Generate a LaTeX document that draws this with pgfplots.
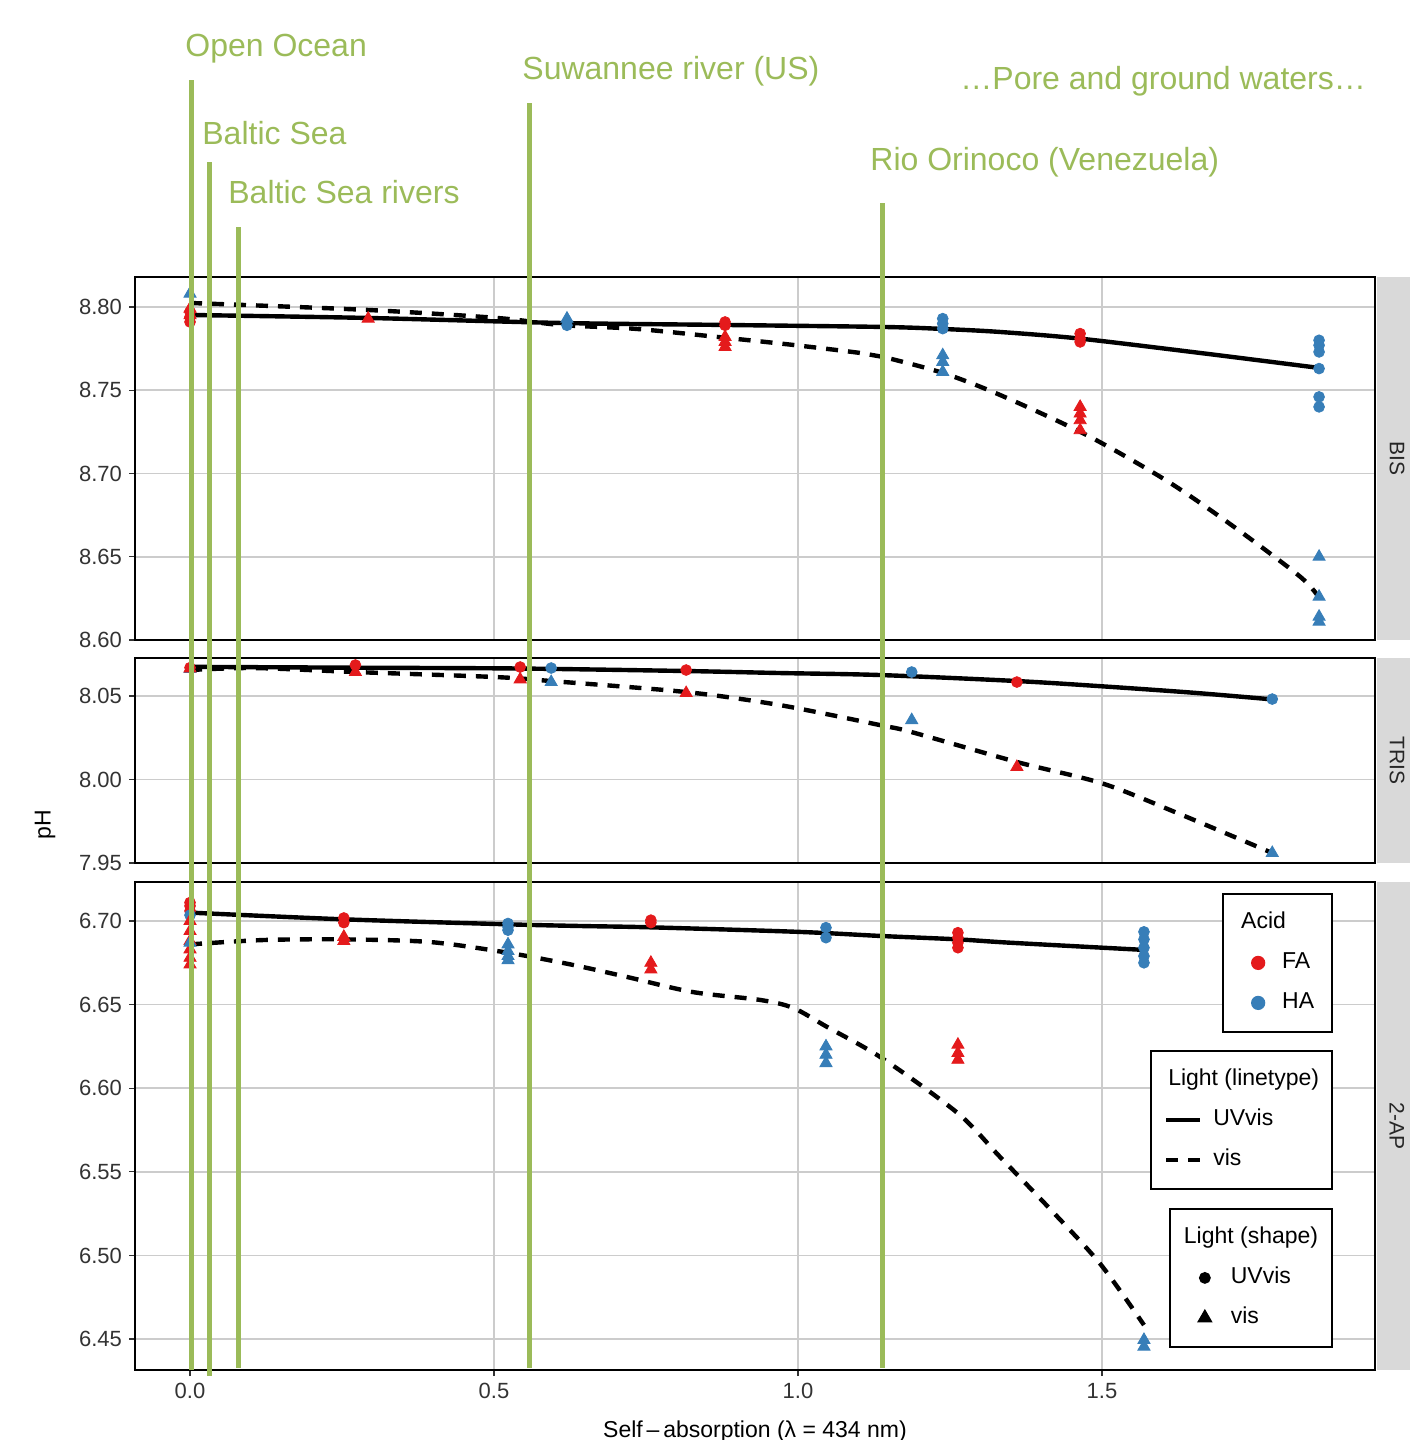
\documentclass[border=0pt]{standalone}
\usepackage{fontspec}
\setmainfont{Liberation Sans}
\usepackage{pgfplots}
\pgfplotsset{compat=1.18}
\definecolor{fa}{HTML}{E41A1C}
\definecolor{ha}{HTML}{377EB8}
\definecolor{ann}{HTML}{9BBB59}
\definecolor{gridc}{HTML}{CCCCCC}
\definecolor{tickc}{HTML}{333333}
\definecolor{stripc}{HTML}{D9D9D9}
\pgfplotsset{
 panel/.style={
   scale only axis, width=620pt, xmin=-0.0905, xmax=1.949,
   anchor=north west,
   axis line style={line width=1pt, black},
   grid=major, major grid style={line width=0.8pt, gridc},
   xtick={0,0.5,1,1.5},
   tick align=outside, major tick length=3pt,
   tick style={line width=0.6pt, tickc},
   ytick pos=left, xtick pos=bottom,
   /pgf/number format/assume math mode=true,
   yticklabel style={/pgf/number format/fixed, /pgf/number format/fixed zerofill, /pgf/number format/precision=2, font=\fontsize{11}{13}\selectfont, text=tickc},
   xticklabel style={/pgf/number format/fixed, /pgf/number format/fixed zerofill, /pgf/number format/precision=1, font=\fontsize{11}{13}\selectfont, text=tickc},
   scaled y ticks=false,
 },
 top panel/.style={xmajorticks=false, xticklabels={}},
 circ/.style={only marks, mark=*, mark size=2.7pt, mark options={draw=none}},
 tri/.style={only marks, mark=triangle*, mark size=3.5pt, mark options={draw=none}},
 uv/.style={no marks, line width=2.2pt, black, smooth},
 vis/.style={no marks, line width=2.2pt, black, smooth, dash pattern=on 6pt off 5pt},
 legbox/.style={legend cell align=left, legend style={anchor=north east, draw=black, line width=0.9pt, fill=white, inner ysep=9pt, row sep=9pt, font=\fontsize{11.5}{13}\selectfont, nodes={inner sep=0pt, text height=8.5pt, text depth=2.5pt}}},
}
\begin{document}
\begin{tikzpicture}
\path[use as bounding box] (0,0) rectangle (704.5pt,-720pt);
% strips
\fill[stripc] (688.5pt,-138.5pt) rectangle (706pt,-320pt);
\fill[stripc] (688.5pt,-329pt) rectangle (706pt,-431.5pt);
\fill[stripc] (688.5pt,-441pt) rectangle (706pt,-685pt);
\node[rotate=-90, font=\fontsize{10.5}{12}\selectfont, text=black!85] at (698.5pt,-229.25pt) {BIS};
\node[rotate=-90, font=\fontsize{10.5}{12}\selectfont, text=black!85] at (698.5pt,-380.25pt) {TRIS};
\node[rotate=-90, font=\fontsize{10.5}{12}\selectfont, text=black!85] at (698.5pt,-563pt) {2-AP};

% ---------------- BIS ----------------
\begin{axis}[panel, top panel, at={(67.5pt,-138.5pt)}, height=181.5pt,
  ymin=8.6, ymax=8.818, ytick={8.6,8.65,8.7,8.75,8.8}]
\addplot[circ, fa] coordinates {(0,8.797)(0,8.794)(0,8.791)(0.88,8.791)(0.88,8.789)(1.464,8.784)(1.464,8.781)(1.464,8.779)};
\addplot[tri, fa] coordinates {(0,8.799)(0,8.795)(0.293,8.793)(0.88,8.782)(0.88,8.779)(0.88,8.776)(1.464,8.740)(1.464,8.736)(1.464,8.732)(1.464,8.726)};
\addplot[circ, ha] coordinates {(0.62,8.789)(1.238,8.793)(1.238,8.790)(1.238,8.787)(1.857,8.780)(1.857,8.777)(1.857,8.773)(1.857,8.763)(1.857,8.746)(1.857,8.740)};
\addplot[tri, ha] coordinates {(0,8.808)(0.62,8.793)(1.238,8.771)(1.238,8.767)(1.238,8.761)(1.857,8.650)(1.857,8.626)(1.857,8.614)(1.857,8.611)};
\addplot[uv] coordinates {(0,8.7952)(0.293,8.7934)(0.609,8.7904)(0.880,8.7892)(1.140,8.788)(1.238,8.7868)(1.332,8.785)(1.464,8.781)(1.661,8.7724)(1.857,8.7634)};
\addplot[vis] coordinates {(0,8.8024)(0.293,8.7982)(0.505,8.7934)(0.609,8.7892)(0.735,8.7868)(0.883,8.7814)(0.992,8.7772)(1.102,8.7724)(1.140,8.770)(1.238,8.7604)(1.332,8.7472)(1.474,8.7232)(1.607,8.6955)(1.715,8.6685)(1.826,8.638)(1.857,8.6254)};
\end{axis}

% ---------------- TRIS ----------------
\begin{axis}[panel, top panel, at={(67.5pt,-329pt)}, height=102.5pt,
  ymin=7.95, ymax=8.0728, ytick={7.95,8,8.05}]
\addplot[circ, fa] coordinates {(0,8.067)(0.272,8.0686)(0.543,8.0674)(0.816,8.0656)(1.36,8.0584)};
\addplot[tri, ha] coordinates {(0,8.0662)(0.594,8.0584)(1.187,8.0356)(1.78,7.956)};
\addplot[tri, fa] coordinates {(0,8.0665)(0.272,8.0644)(0.543,8.060)(0.816,8.0518)(1.36,8.0075)};
\addplot[circ, ha] coordinates {(0.594,8.0668)(1.187,8.0644)(1.78,8.0482)};
\addplot[uv] coordinates {(0,8.0675)(0.272,8.067)(0.543,8.0665)(0.816,8.065)(0.97,8.0638)(1.135,8.0626)(1.36,8.059)(1.502,8.0558)(1.65,8.052)(1.78,8.048)};
\addplot[vis] coordinates {(0,8.0656)(0.105,8.0668)(0.272,8.0644)(0.502,8.0614)(0.594,8.059)(0.816,8.0524)(0.97,8.0446)(1.135,8.0326)(1.187,8.0284)(1.36,8.0105)(1.502,7.9975)(1.632,7.9787)(1.78,7.956)};
\end{axis}

% ---------------- 2-AP ----------------
\begin{axis}[panel, at={(67.5pt,-441pt)}, height=244pt,
  ymin=6.4315, ymax=6.7233, ytick={6.45,6.5,6.55,6.6,6.65,6.7}]
\addplot[circ, fa] coordinates {(0,6.711)(0,6.709)(0,6.706)(0.253,6.7018)(0.253,6.699)(0.758,6.7005)(0.758,6.699)(1.263,6.693)(1.263,6.690)(1.263,6.687)(1.263,6.684)};
\addplot[circ, ha] coordinates {(0,6.7035)(0.523,6.6985)(0.523,6.6965)(0.523,6.6945)(1.046,6.696)(1.046,6.690)(1.569,6.6935)(1.569,6.689)(1.569,6.684)(1.569,6.679)(1.569,6.675)};
\addplot[tri, fa] coordinates {(0,6.700)(0,6.694)(0,6.688)(0,6.683)(0,6.678)(0,6.674)(0.253,6.6905)(0.253,6.688)(0.758,6.675)(0.758,6.671)(1.263,6.626)(1.263,6.621)(1.263,6.617)};
\addplot[tri, ha] coordinates {(0,6.687)(0.523,6.686)(0.523,6.682)(0.523,6.679)(0.523,6.6765)(1.046,6.625)(1.046,6.620)(1.046,6.615)(1.569,6.4495)(1.569,6.4455)};
\addplot[uv] coordinates {(0,6.705)(0.252,6.701)(0.523,6.698)(0.641,6.697)(0.758,6.6962)(1.0,6.6935)(1.138,6.691)(1.263,6.689)(1.349,6.687)(1.569,6.6827)};
\addplot[vis] coordinates {(0,6.686)(0.12,6.6886)(0.252,6.689)(0.395,6.6874)(0.523,6.681)(0.63,6.6737)(0.719,6.6665)(0.827,6.6575)(0.9375,6.6528)(0.992,6.648)(1.048,6.6366)(1.138,6.618)(1.263,6.585)(1.332,6.559)(1.414,6.528)(1.497,6.495)(1.569,6.4584)};
\end{axis}

% annotation lines
\begin{scope}[ann, line width=2.5pt]
\draw (95.75pt,-40pt) -- (95.75pt,-685pt);
\draw (104.5pt,-81pt) -- (104.5pt,-688pt);
\draw (119pt,-113.5pt) -- (119pt,-684pt);
\draw (264.5pt,-51.5pt) -- (264.5pt,-684pt);
\draw (441pt,-101.5pt) -- (441pt,-684pt);
\end{scope}
\begin{scope}[every node/.style={anchor=base west, inner sep=0pt, text=ann, font=\fontsize{16}{19}\selectfont}]
\node at (92.5pt,-28.25pt) {Open Ocean};
\node at (101pt,-72.25pt) {Baltic Sea};
\node at (114pt,-101.75pt) {Baltic Sea rivers};
\node at (261pt,-39.75pt) {Suwannee river (US)};
\node at (435pt,-85.25pt) {Rio Orinoco (Venezuela)};
\node at (480pt,-44.75pt) {…Pore and ground waters…};
\end{scope}

% axis titles
\node[rotate=90, font=\fontsize{11.5}{13}\selectfont] at (22.5pt,-412.5pt) {pH};
\node[anchor=base, font=\fontsize{11.5}{13}\selectfont] at (377.5pt,-718.75pt) {Self\,–\,absorption (λ = 434 nm)};

% legends
\begin{axis}[panel, at={(67.5pt,-441pt)}, height=244pt, ymin=0, ymax=1, hide axis, legbox,
  legend style={at={(0.96613,0.97746)}, inner xsep=9pt, column sep=3.5pt},
  legend image code/.code={\path[draw=none,fill=none] (0pt,-3pt) (17pt,3pt); \draw[#1] plot coordinates {(8.5pt,0pt)};}]
\addlegendimage{empty legend}\addlegendentry{\hspace*{-20.5pt}Acid}
\addlegendimage{only marks, mark=*, mark size=3.1pt, fa, mark options={draw=none}}\addlegendentry{FA}
\addlegendimage{only marks, mark=*, mark size=3.1pt, ha, mark options={draw=none}}\addlegendentry{HA}
\end{axis}
\begin{axis}[panel, at={(67.5pt,-441pt)}, height=244pt, ymin=0, ymax=1, hide axis, legbox,
  legend style={at={(0.96613,0.65574)}, inner xsep=6.5pt, column sep=5.5pt},
  legend image code/.code={\draw[#1] (0pt,0pt) -- (17pt,0pt);}]
\addlegendimage{empty legend}\addlegendentry{\hspace*{-22.5pt}Light (linetype)}
\addlegendimage{no marks, line width=2.2pt, black}\addlegendentry{UVvis}
\addlegendimage{no marks, line width=2.2pt, black, dash pattern=on 6pt off 5pt}\addlegendentry{vis}
\end{axis}
\begin{axis}[panel, at={(67.5pt,-441pt)}, height=244pt, ymin=0, ymax=1, hide axis, legbox,
  legend style={at={(0.96613,0.33197)}, inner xsep=7pt, column sep=2.5pt},
  legend image code/.code={\path[draw=none,fill=none] (0pt,-3pt) (21pt,3pt); \draw[#1] plot coordinates {(10.5pt,0pt)};}]
\addlegendimage{empty legend}\addlegendentry{\hspace*{-23.5pt}Light (shape)}
\addlegendimage{only marks, mark=*, mark size=2.5pt, black}\addlegendentry{UVvis}
\addlegendimage{only marks, mark=triangle*, mark size=3.6pt, black}\addlegendentry{vis}
\end{axis}
\end{tikzpicture}
\end{document}
